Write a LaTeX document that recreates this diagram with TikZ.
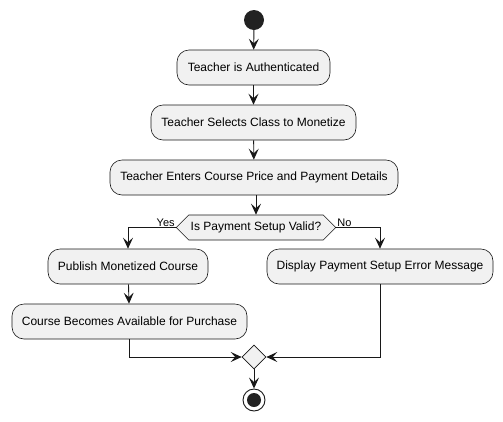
\documentclass[tikz,border=0pt]{standalone}
\usepackage{fontspec}
\setmainfont{Liberation Sans}
\usetikzlibrary{arrows.meta,shapes.symbols,shapes.geometric}
\definecolor{boxfill}{HTML}{F1F1F1}
\definecolor{ink}{HTML}{181818}
\definecolor{dot}{HTML}{222222}
\begin{document}
\begin{tikzpicture}[x=1pt,y=-1pt,
  act/.style={draw=ink,line width=0.6pt,fill=boxfill,rounded corners=12pt,
    minimum height=35pt,inner sep=0pt,font=\fontsize{12}{14}\selectfont},
  dec/.style={draw=ink,line width=0.6pt,fill=boxfill,signal,signal to=east and west,
    minimum height=25pt,inner xsep=2pt,inner ysep=0pt,font=\fontsize{12}{14}\selectfont},
  merge/.style={draw=ink,line width=0.6pt,fill=boxfill,diamond,minimum width=24pt,minimum height=24pt,inner sep=0pt},
  flow/.style={draw=ink,line width=0.9pt,-{Stealth[length=11pt,width=10pt,inset=4.5pt]}},
  lbl/.style={font=\fontsize{11}{13}\selectfont,inner sep=1pt}]
\useasboundingbox (0,0) rectangle (503,421);
\node[circle,fill=dot,minimum size=20pt,inner sep=0pt] (start) at (254,20) {};
\node[act,minimum width=153pt] (b1) at (253.5,67.5) {Teacher is Authenticated};
\node[act,minimum width=205pt] (b2) at (253.5,122.5) {Teacher Selects Class to Monetize};
\node[act,minimum width=288pt] (b3) at (254,177.5) {Teacher Enters Course Price and Payment Details};
\node[dec,minimum width=150pt] (d) at (256,227.5) {Is Payment Setup Valid?};
\node[act,minimum width=160pt] (b4) at (128,266.5) {Publish Monetized Course};
\node[act,minimum width=235pt] (b5) at (129.5,321.5) {Course Becomes Available for Purchase};
\node[act,minimum width=226pt] (b6) at (380,266.5) {Display Payment Setup Error Message};
\node[merge] (m) at (254,357) {};
\node[circle,draw=ink,line width=0.9pt,fill=white,minimum size=22pt,inner sep=0pt] (end) at (254,400) {};
\node[circle,fill=dot,minimum size=14pt,inner sep=0pt] (endin) at (end) {};
\draw[flow] (start) -- (b1);
\draw[flow] (b1) -- (b2);
\draw[flow] (b2) -- (b3);
\draw[flow] (b3.south -| d.north) -- (d.north);
\draw[flow] (d.west) -| (b4.north);
\draw[flow] (d.east) -| (b6.north);
\draw[flow] (b4) -- (b5);
\draw[flow] (b5.south) |- (m.west);
\draw[flow] (b6.south) |- (m.east);
\draw[flow] (m) -- (end);
\node[lbl,anchor=south east] (yes) at (d.west) {Yes};
\node[lbl,anchor=south west] (no) at (d.east) {No};
\end{tikzpicture}
\end{document}
